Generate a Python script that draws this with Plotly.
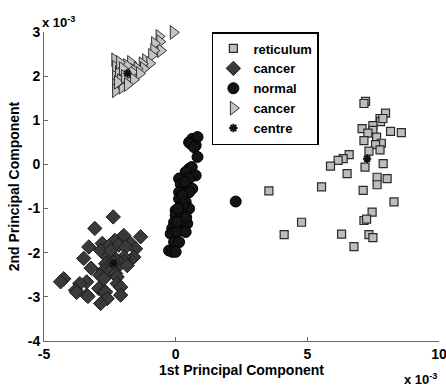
import plotly.graph_objects as go

# Principal component scores (units of 1e-3)
reticulum_x = [7.21, 7.15, 7.97, 7.76, 7.78, 7.87, 7.08, 7.49, 7.49, 8.16, 8.57, 7.30, 7.15, 7.63,
               7.81, 7.59, 7.76, 7.34, 6.59, 6.36, 6.17, 7.88, 5.88, 7.19, 6.51, 7.65, 8.03, 7.65,
               5.54, 7.12, 3.54, 8.29, 7.46, 7.15, 7.25, 4.78, 4.12, 6.30, 7.34, 7.49, 6.77]
reticulum_y = [1.43, 1.38, 1.16, 1.04, 0.97, 1.04, 0.81, 0.88, 0.77, 0.75, 0.72, 0.71, 0.54, 0.62,
               0.48, 0.45, 0.33, 0.30, 0.22, 0.13, 0.09, 0.02, -0.04, -0.06, -0.21, -0.29, -0.32, -0.46,
               -0.51, -0.59, -0.60, -0.85, -1.08, -1.27, -1.24, -1.31, -1.59, -1.58, -1.59, -1.66, -1.86]

cancer_a_x = [-2.37, -3.07, -1.33, -1.97, -2.31, -1.71, -1.52, -2.79, -3.30, -2.54, -2.16, -1.90,
              -2.85, -1.59, -1.71, -3.49, -1.97, -1.94, -2.60, -2.35, -2.66, -2.28, -2.09, -1.84,
              -3.21, -2.73, -2.54, -2.28, -2.22, -2.88, -2.73, -4.25, -3.38, -3.64, -4.37, -2.22,
              -2.09, -2.92, -2.73, -3.80, -3.76, -2.66, -3.38, -3.33, -2.09, -2.60, -2.85, -2.47, -2.36]
cancer_a_y = [-1.19, -1.45, -1.64, -1.61, -1.72, -1.79, -1.91, -1.79, -1.87, -1.85, -1.83, -1.87,
              -1.95, -2.10, -2.17, -2.13, -2.10, -2.21, -2.10, -2.10, -2.25, -2.32, -2.25, -2.29,
              -2.35, -2.40, -2.44, -2.47, -2.55, -2.51, -2.59, -2.59, -2.66, -2.70, -2.66, -2.70,
              -2.78, -2.81, -2.89, -2.85, -2.90, -2.89, -2.96, -2.99, -2.96, -3.04, -3.15, -1.95, -2.22]

normal_x = [0.63, 0.83, 0.51, 0.57, 0.76, 0.70, 0.83, 0.51, 0.61, 0.38, 0.76, 0.13, 0.51, 0.19,
            0.44, 0.63, 0.13, 0.32, 0.51, 0.13, 0.38, 0.19, 0.00, 0.32, 0.51, 0.00, 0.25, -0.06,
            0.19, 0.44, -0.13, 0.13, -0.19, 0.06, 0.38, -0.06, 0.13, -0.25, -0.13, 0.00, 2.28,
            0.25, 0.30, 0.20, 0.40, 0.10, 0.35, 0.05]
normal_y = [0.58, 0.62, 0.50, 0.47, 0.43, 0.39, 0.17, -0.10, -0.06, -0.17, -0.25, -0.32, -0.32, -0.44,
            -0.51, -0.55, -0.63, -0.66, -0.63, -0.78, -0.85, -0.93, -1.04, -1.08, -1.00, -1.15, -1.23, -1.31,
            -1.34, -1.34, -1.45, -1.49, -1.57, -1.53, -1.53, -1.76, -1.76, -1.95, -1.98, -1.98, -0.84,
            -0.70, -0.90, -1.10, -1.20, -1.00, -0.40, -1.30]

cancer_b_x = [-0.09, -0.63, -0.60, -0.57, -0.80, -0.83, -0.91, -1.14, -0.98, -1.27, -1.22, -2.31,
              -1.71, -1.46, -1.59, -2.28, -2.28, -2.28, -2.28, -1.97, -1.90, -2.03, -1.71, -1.65,
              -2.17, -2.09, -1.86, -2.13, -1.79, -2.02, -1.37, -2.21, -1.60, -1.94, -1.83]
cancer_b_y = [2.99, 2.90, 2.78, 2.58, 2.74, 2.58, 2.47, 2.35, 2.29, 2.28, 2.17, 2.37,
              2.31, 2.17, 2.13, 2.20, 1.98, 1.79, 1.67, 2.09, 1.90, 1.75, 2.01, 2.09,
              2.08, 1.90, 2.24, 2.31, 1.90, 2.17, 2.06, 1.86, 1.92, 1.99, 1.81]

centre_x = [7.27, -2.36, 0.30, -1.83]
centre_y = [0.13, -2.24, -0.81, 2.06]

x_ticks = [-5, 0, 5, 10]
y_ticks = [-4, -3, -2, -1, 0, 1, 2, 3]

FONT = "Liberation Sans, Arial, sans-serif"

fig = go.Figure()
fig.add_trace(go.Scatter(
    x=reticulum_x, y=reticulum_y, mode="markers", name="reticulum", cliponaxis=False,
    marker=dict(symbol="square", size=8, color="#bdbdbd",
                line=dict(color="#2a2a2a", width=1.2))))
fig.add_trace(go.Scatter(
    x=cancer_a_x, y=cancer_a_y, mode="markers", name="cancer", cliponaxis=False,
    marker=dict(symbol="diamond", size=11, color="#3a3a3a",
                line=dict(color="#1a1a1a", width=1))))
fig.add_trace(go.Scatter(
    x=normal_x, y=normal_y, mode="markers", name="normal", cliponaxis=False,
    marker=dict(symbol="circle", size=11, color="#141414",
                line=dict(color="#000000", width=1))))
fig.add_trace(go.Scatter(
    x=cancer_b_x, y=cancer_b_y, mode="markers", name="cancer", cliponaxis=False,
    marker=dict(symbol="triangle-right", size=12, color="#c4c4c4",
                line=dict(color="#333333", width=1))))
fig.add_trace(go.Scatter(
    x=centre_x, y=centre_y, mode="markers", name="centre", cliponaxis=False,
    marker=dict(symbol="asterisk", size=7, color="#111111",
                line=dict(color="#111111", width=2))))

axis_common = dict(
    showgrid=False, zeroline=False, showline=True, linecolor="#666666", linewidth=1,
    ticks="inside", ticklen=4, tickcolor="#666666", mirror=False,
    automargin=False, ticklabeloverflow="allow",
    tickfont=dict(family=FONT, size=14, color="black", weight="bold"),
)

fig.update_xaxes(range=[-5, 10], tickvals=x_ticks, ticktext=[str(v) for v in x_ticks],
                 title=dict(text="1st Principal Component", standoff=2,
                            font=dict(family=FONT, size=14, color="black", weight="bold")),
                 **axis_common)
fig.update_yaxes(range=[-4, 3], tickvals=y_ticks, ticktext=[str(v) for v in y_ticks],
                 title=dict(text="2nd Principal Component", standoff=4,
                            font=dict(family=FONT, size=14, color="black", weight="bold")),
                 **axis_common)

fig.add_annotation(text="x 10<sup>-3</sup>", xref="paper", yref="paper", x=-0.01, y=1.0,
                   xanchor="left", yanchor="bottom", showarrow=False,
                   font=dict(family=FONT, size=13, color="black", weight="bold"))
fig.add_annotation(text="x 10<sup>-3</sup>", xref="paper", yref="paper", x=1.0, y=-0.09,
                   xanchor="right", yanchor="top", showarrow=False,
                   font=dict(family=FONT, size=13, color="black", weight="bold"))

fig.update_layout(
    width=446, height=389,
    margin=dict(l=44, r=7, t=32, b=48, autoexpand=False),
    paper_bgcolor="white", plot_bgcolor="white",
    showlegend=True,
    legend=dict(x=0.425, y=1.0, xanchor="left", yanchor="top",
                bgcolor="white", bordercolor="black", borderwidth=1.5,
                font=dict(family=FONT, size=13, color="black", weight="bold"),
                itemsizing="trace", tracegroupgap=0),
)

fig.write_html("out.html")
